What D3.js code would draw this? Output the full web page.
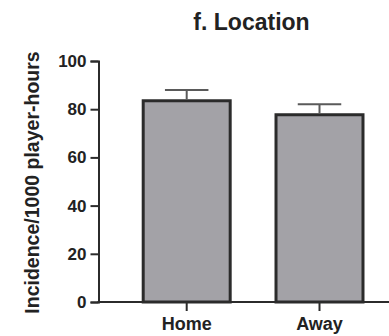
<!DOCTYPE html>
<html>
<head>
<meta charset="utf-8">
<script src="https://cdn.jsdelivr.net/npm/d3@7"></script>
<style>
  body { margin: 0; background: #fff; }
  text { font-family: "Liberation Sans", Arial, sans-serif; font-weight: bold; fill: #222; }
</style>
</head>
<body>
<svg id="chart" width="389" height="336"></svg>
<script>
// data
const categories = ["Home", "Away"];
const incidence = [83.5, 77.7];
const errorUp = [4.5, 4.4];
const yTicks = [0, 20, 40, 60, 80, 100];

const svg = d3.select("#chart");

// scales
const y = d3.scaleLinear().domain([0, 100]).range([302, 61]);
const x = d3.scaleBand()
    .domain(categories)
    .range([76.8, 429.4])
    .paddingInner(0.345)
    .paddingOuter(0.5);

// bars
svg.selectAll("rect.bar")
    .data(categories)
    .join("rect")
    .attr("class", "bar")
    .attr("x", d => x(d))
    .attr("y", (d, i) => y(incidence[i]))
    .attr("width", x.bandwidth())
    .attr("height", (d, i) => y(0) - y(incidence[i]))
    .attr("fill", "#a3a2a7")
    .attr("stroke", "#2b2b2b")
    .attr("stroke-width", 3);

// error bars (upper only)
const err = svg.append("g").attr("stroke", "#5a5a5a").attr("stroke-width", 2);
categories.forEach((c, i) => {
    const cx = x(c) + x.bandwidth() / 2;
    err.append("line")
        .attr("x1", cx).attr("x2", cx)
        .attr("y1", y(incidence[i]) - 1.5).attr("y2", y(incidence[i] + errorUp[i]));
    err.append("line")
        .attr("x1", cx - x.bandwidth() / 4).attr("x2", cx + x.bandwidth() / 4)
        .attr("y1", y(incidence[i] + errorUp[i])).attr("y2", y(incidence[i] + errorUp[i]));
});

// y axis
const yAxis = svg.append("g")
    .attr("transform", "translate(98.5,0)")
    .call(d3.axisLeft(y).tickValues(yTicks).tickSize(8).tickPadding(4));
yAxis.select(".domain").attr("stroke", "#2b2b2b").attr("stroke-width", 2);
yAxis.selectAll(".tick line").attr("stroke", "#2b2b2b").attr("stroke-width", 2);
yAxis.selectAll(".tick text").style("font-size", "17px").attr("fill", "#222");

// x axis
const xAxis = svg.append("g")
    .attr("transform", "translate(0,302)")
    .call(d3.axisBottom(x).tickSize(9).tickPadding(6));
xAxis.select(".domain").remove();
xAxis.selectAll(".tick line").attr("stroke", "#2b2b2b").attr("stroke-width", 2);
xAxis.selectAll(".tick text").style("font-size", "18px").attr("fill", "#222");
svg.append("line")
    .attr("x1", 97.5).attr("x2", 389)
    .attr("y1", 302).attr("y2", 302)
    .attr("stroke", "#2b2b2b").attr("stroke-width", 2);

// title
svg.append("text")
    .attr("x", 251.5).attr("y", 30)
    .attr("text-anchor", "middle")
    .style("font-size", "23px")
    .text("f. Location");

// y label
svg.append("text")
    .attr("transform", "translate(39,182.5) rotate(-90)")
    .attr("text-anchor", "middle")
    .style("font-size", "19.5px")
    .text("Incidence/1000 player-hours");
</script>
</body>
</html>
